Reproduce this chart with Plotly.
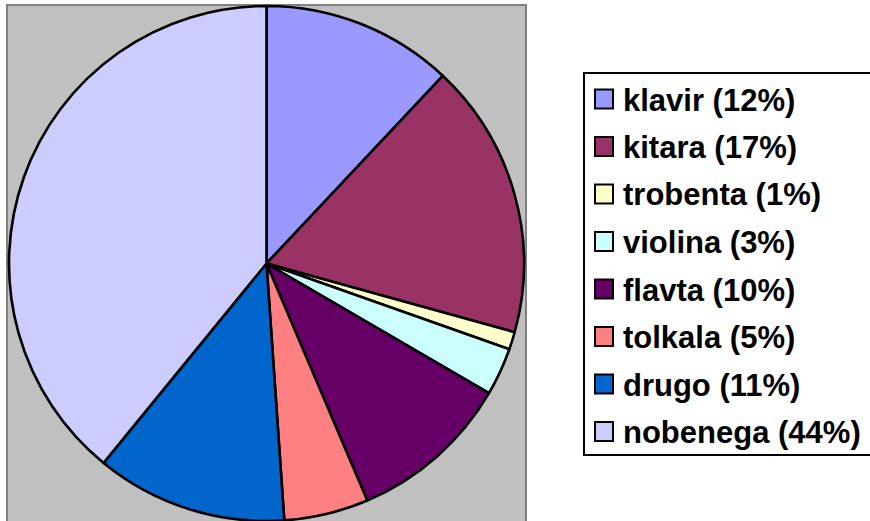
import plotly.graph_objects as go

W, H = 870, 521

categories = ["klavir", "kitara", "trobenta", "violina", "flavta", "tolkala", "drugo", "nobenega"]
legend_labels = ["klavir (12%)", "kitara (17%)", "trobenta (1%)", "violina (3%)",
                 "flavta (10%)", "tolkala (5%)", "drugo (11%)", "nobenega (44%)"]
values = [12.0, 17.3, 1.1, 3.0, 10.2, 5.3, 12.0, 39.1]
colors = ["#9999FF", "#993366", "#FFFFCC", "#CCFFFF", "#660066", "#FF8080", "#0066CC", "#CCCCFF"]


def px(x):
    return x / W


def py(y):
    return 1 - y / H


fig = go.Figure()
fig.add_trace(go.Pie(
    labels=categories,
    values=values,
    sort=False,
    direction="clockwise",
    rotation=0,
    marker=dict(colors=colors, line=dict(color="black", width=2.6)),
    textinfo="none",
    hoverinfo="label+percent",
    showlegend=False,
    domain=dict(x=[px(7), px(526)], y=[0, py(6)]),
))

shapes = []
# plot area background
shapes.append(dict(type="rect", xref="paper", yref="paper",
                   x0=px(7), x1=px(526), y0=py(530), y1=py(5),
                   fillcolor="#C0C0C0", line=dict(color="#808080", width=2), layer="below"))
# legend box (open on the right, cut by the image edge)
xl, xr, yt, yb = px(584), px(900), py(73), py(455)
shapes.append(dict(type="rect", xref="paper", yref="paper",
                   x0=xl, x1=xr, y0=yb, y1=yt,
                   fillcolor="white", line=dict(width=0), layer="below"))
shapes.append(dict(type="path", xref="paper", yref="paper",
                   path=f"M {xr},{yt} L {xl},{yt} L {xl},{yb} L {xr},{yb}",
                   line=dict(color="black", width=2), layer="below"))

annotations = []
y0, dy = 99, 47.5
for i, (lab, col) in enumerate(zip(legend_labels, colors)):
    yc = y0 + i * dy
    shapes.append(dict(type="rect", xref="paper", yref="paper",
                       x0=px(595), x1=px(613), y0=py(yc + 9.5), y1=py(yc - 9.5),
                       fillcolor=col, line=dict(color="black", width=2)))
    annotations.append(dict(xref="paper", yref="paper", x=px(621), y=py(yc + 1),
                            xanchor="left", yanchor="middle", showarrow=False,
                            text="<b>" + lab + "</b>",
                            font=dict(family="Arial, Liberation Sans, sans-serif", size=31, color="black")))

fig.update_layout(
    width=W, height=H,
    margin=dict(l=0, r=0, t=0, b=0),
    paper_bgcolor="white",
    plot_bgcolor="white",
    shapes=shapes,
    annotations=annotations,
    showlegend=False,
)

fig.write_html("out.html",
               config={"displayModeBar": False},
               post_script="document.body.style.margin='0';document.body.style.overflow='hidden';")
